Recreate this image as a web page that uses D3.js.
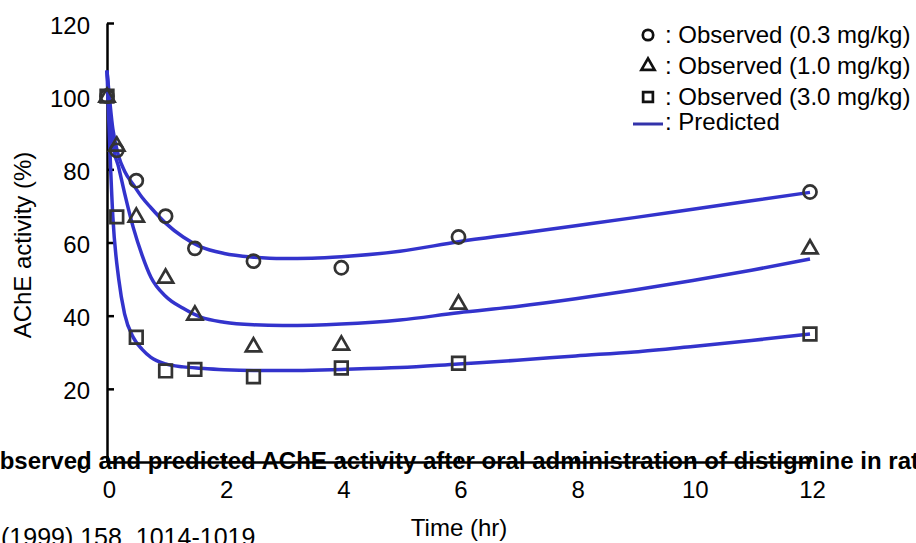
<!DOCTYPE html>
<html>
<head>
<meta charset="utf-8">
<script src="https://cdn.jsdelivr.net/npm/d3@7"></script>
<style>
  html, body { margin: 0; padding: 0; background: #fff; }
  svg { display: block; font-family: "Liberation Sans", Arial, sans-serif; }
</style>
</head>
<body>
<svg id="chart" width="916" height="543"></svg>
<script>
// observed sampling times (hr)
var obsTimes = [0, 0.167, 0.5, 1, 1.5, 2.5, 4, 6, 12];
var obsLow  = [100, 85.2, 76.9, 67.2, 58.4, 54.9, 53.1, 61.5, 73.8];   // 0.3 mg/kg
var obsMid  = [100, 86.6, 67.2, 50.5, 40.4, 31.7, 32.2, 43.4, 58.5];   // 1.0 mg/kg
var obsHigh = [100, 67.0, 34.1, 24.9, 25.3, 23.3, 25.7, 27.0, 35.0];   // 3.0 mg/kg

// predicted curves
var predTimes = [0, 0.1, 0.2, 0.3, 0.45, 0.6, 0.75, 1, 1.3, 1.6, 2, 2.5, 3, 3.5, 4, 5, 6, 7, 8, 9, 10, 11, 12];
var predLow  = [107, 91, 83.5, 79.5, 75.8, 72.3, 69.5, 65.3, 61.5, 58.8, 57, 56, 55.6, 55.7, 56.1, 57.6, 60.2, 62.4, 64.6, 66.8, 69.1, 71.4, 73.7];
var predMid  = [107, 87, 80.5, 73.5, 64, 56.5, 50.5, 45.3, 42, 39.6, 38.2, 37.5, 37.3, 37.4, 37.7, 38.8, 40.8, 42.5, 44.6, 47, 49.6, 52.4, 55.5];
var predHigh = [107, 67, 50, 40.5, 34, 30.8, 28.6, 26.8, 26, 25.6, 25.2, 25, 25, 25.1, 25.3, 25.8, 26.8, 27.8, 29, 30.1, 31.6, 33.2, 35];

var xTicks = [0, 2, 4, 6, 8, 10, 12];
var yTicks = [0, 20, 40, 60, 80, 100, 120];

var legendLabels = [': Observed (0.3 mg/kg)', ': Observed (1.0 mg/kg)', ': Observed (3.0 mg/kg)', ': Predicted'];
var titleText = 'Observed and predicted AChE activity after oral administration of distigmine in rats';
var citeText = '(1999) 158, 1014-1019';

var svg = d3.select('#chart');

var x = d3.scaleLinear().domain([0, 12]).range([107, 810]);
var y = d3.scaleLinear().domain([0, 120]).range([462, 23]);

var markColor = '#333333';
var lineColor = '#3333cc';
var fontSize = '24px';

// axes
var yAxis = svg.append('g')
	.attr('transform', 'translate(107,0)')
	.call(d3.axisLeft(y).tickValues(yTicks).tickSizeInner(-7).tickSizeOuter(0).tickPadding(17));
var xAxis = svg.append('g')
	.attr('transform', 'translate(0,462)')
	.call(d3.axisBottom(x).tickValues(xTicks).tickSizeInner(-6).tickSizeOuter(0).tickPadding(19));

[xAxis, yAxis].forEach(function(ax){
	ax.selectAll('path, line').attr('stroke', '#000').attr('stroke-width', 2.5);
	ax.selectAll('text').attr('fill', '#000').style('font-size', fontSize)
		.style('font-family', '"Liberation Sans", Arial, sans-serif');
});
yAxis.selectAll('text').attr('dy', '0.42em');
xAxis.selectAll('text').attr('dx', 2);

// predicted curves
var line = d3.line()
	.x(function(d){ return x(d[0]); })
	.y(function(d){ return y(d[1]); })
	.curve(d3.curveMonotoneX);

[predLow, predMid, predHigh].forEach(function(vals){
	svg.append('path')
		.datum(predTimes.map(function(t, i){ return [t, vals[i]]; }))
		.attr('d', line)
		.attr('fill', 'none')
		.attr('stroke', lineColor)
		.attr('stroke-width', 3.5);
});

// observed markers
var sym = [d3.symbolCircle, d3.symbolTriangle, d3.symbolSquare];
var symSize = [135, 100, 160];
[obsLow, obsMid, obsHigh].forEach(function(vals, k){
	svg.append('g').selectAll('path')
		.data(obsTimes.map(function(t, i){ return [t, vals[i]]; }))
		.enter()
		.append('path')
			.attr('d', d3.symbol().type(sym[k]).size(symSize[k]))
			.attr('transform', function(d){ return 'translate(' + x(d[0]) + ',' + (y(d[1]) + (k === 1 ? 1 : 0)) + ')'; })
			.attr('fill', 'none')
			.attr('stroke', markColor)
			.attr('stroke-width', 2.7);
});

// axis titles
svg.append('text')
	.attr('x', 459).attr('y', 536)
	.attr('text-anchor', 'middle')
	.style('font-size', fontSize)
	.text('Time (hr)');
svg.append('text')
	.attr('transform', 'translate(31,245) rotate(-90)')
	.attr('text-anchor', 'middle')
	.style('font-size', fontSize)
	.text('AChE activity (%)');

// legend
var legendY = [43, 74, 105, 130];
var legend = svg.append('g');
legendLabels.forEach(function(lbl, i){
	if (i < 3) {
		legend.append('path')
			.attr('d', d3.symbol().type(sym[i]).size([85, 75, 95][i]))
			.attr('transform', 'translate(648,' + (legendY[i] - 8) + ')')
			.attr('fill', 'none')
			.attr('stroke', '#111')
			.attr('stroke-width', 2.7);
	} else {
		legend.append('line')
			.attr('x1', 633).attr('x2', 663)
			.attr('y1', legendY[i] - 6).attr('y2', legendY[i] - 6)
			.attr('stroke', '#3333aa')
			.attr('stroke-width', 3);
	}
	legend.append('text')
		.attr('x', 665).attr('y', legendY[i])
		.style('font-size', fontSize)
		.text(lbl);
});

// overlapping caption and clipped citation
svg.append('text')
	.attr('x', -19).attr('y', 469)
	.style('font-size', fontSize)
	.style('font-weight', 'bold')
	.text(titleText);
svg.append('text')
	.attr('x', 1).attr('y', 546)
	.style('font-size', '25px')
	.text(citeText);
</script>
</body>
</html>
